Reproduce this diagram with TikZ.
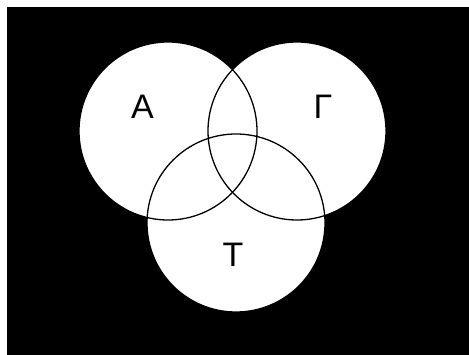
\documentclass[tikz,border=0pt]{standalone}
\usepackage{fontspec}
\setmainfont{Liberation Sans}
\begin{document}
\begin{tikzpicture}[x=1pt,y=-1pt,
  setcircle/.style={circle,minimum size=178pt,inner sep=0pt,fill=white},
  setoutline/.style={circle,minimum size=178pt,inner sep=0pt,draw=black,line width=1.3pt},
  setlabel/.style={inner sep=0pt,font=\fontsize{34}{34}\selectfont}]
\useasboundingbox (0,0) rectangle (469,355);
\fill[white] (0,0) rectangle (469,355);
\fill[black] (7,7) rectangle (469,355);
\node[setcircle] (fa) at (168,131) {};
\node[setcircle] (fg) at (297,131) {};
\node[setcircle] (ft) at (236,223) {};
\node[setoutline] (ca) at (168,131) {};
\node[setoutline] (cg) at (297,131) {};
\node[setoutline] (ct) at (236,223) {};
\node[setlabel] (la) at (142.5,107) {Α};
\node[setlabel] (lg) at (323,107) {Γ};
\node[setlabel] (lt) at (233,255) {Τ};
\end{tikzpicture}
\end{document}
